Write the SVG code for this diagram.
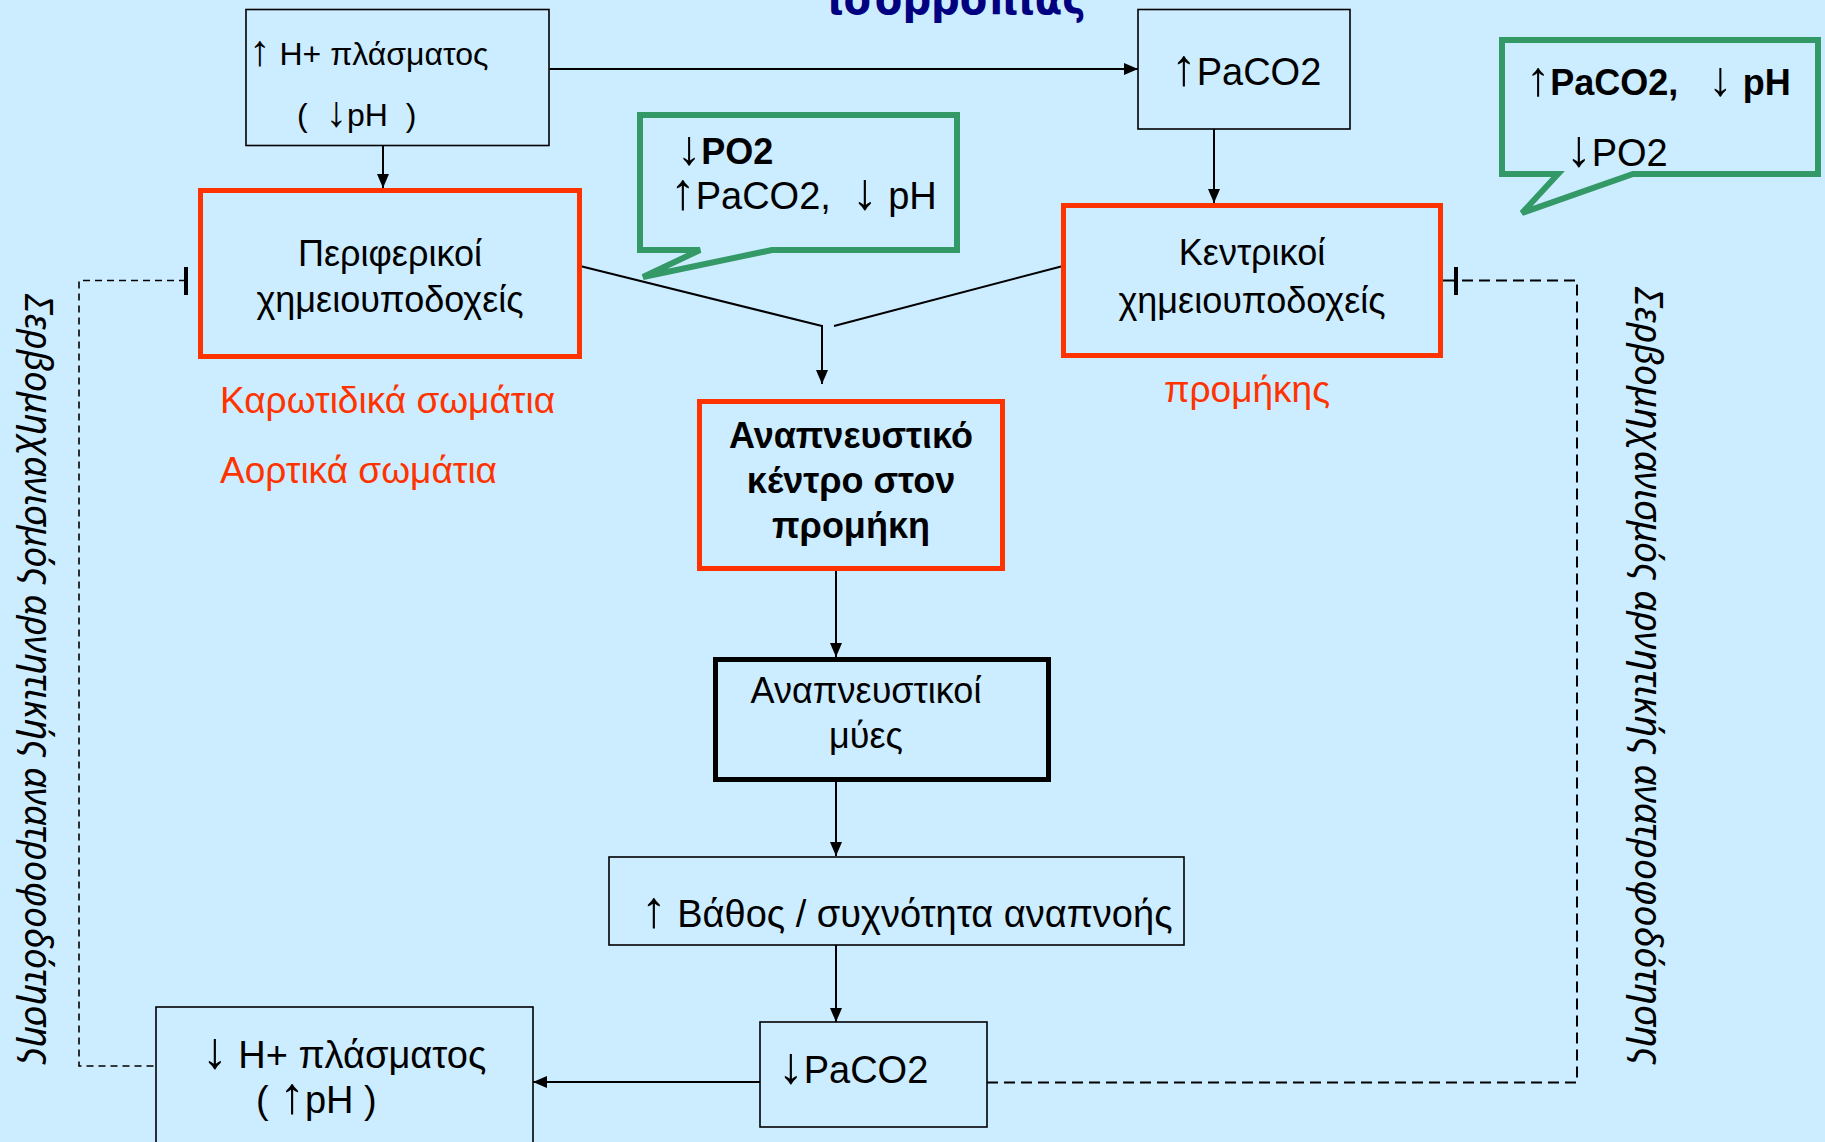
<svg xmlns="http://www.w3.org/2000/svg" width="1825" height="1142" viewBox="0 0 1825 1142">
<defs>
<marker id="ah" markerUnits="userSpaceOnUse" markerWidth="16" markerHeight="14" refX="14" refY="6" orient="auto">
<path d="M0,0 L14,6 L0,12 z" fill="#000"/>
</marker>
<style>
text{font-family:"Liberation Sans",Arial,sans-serif;fill:#000;}
.t38{font-size:38px;}
.t37{font-size:37px;}
.t36{font-size:36px;}
.t32{font-size:32px;}
.b{font-weight:bold;}
.red{fill:#FF3300;}
.pre{white-space:pre;}
.mid{text-anchor:middle;}
.ar{font-size:1.35em;font-weight:normal;}
.thin{fill:none;stroke:#000;stroke-width:1.6;}
.redbox{fill:none;stroke:#FF3300;stroke-width:5;}
.blk{fill:none;stroke:#000;stroke-width:5;}
.call{fill:#CCECFF;stroke:#339966;stroke-width:6;stroke-linejoin:miter;}
.con{fill:none;stroke:#000;stroke-width:2;}
.dash{fill:none;stroke:#000;stroke-width:1.6;stroke-dasharray:7 5;}
.dash2{fill:none;stroke:#000;stroke-width:2;stroke-dasharray:11 6;}
.vert{font-family:"Noto Sans","Open Sans",sans-serif;font-size:38px;font-style:italic;}
</style>
</defs>
<rect x="0" y="0" width="1825" height="1142" fill="#CCECFF"/>

<text x="828" y="14" font-weight="bold" font-size="44" style="fill:#000080;font-family:'DejaVu Sans',sans-serif" textLength="258" lengthAdjust="spacingAndGlyphs">ισορροπίας</text>

<g id="connectors">
<line class="con" x1="549.5" y1="69" x2="1138" y2="69" marker-end="url(#ah)"/>
<line class="con" x1="383" y1="145.5" x2="383" y2="188" marker-end="url(#ah)"/>
<line class="con" x1="1214" y1="129" x2="1214" y2="203" marker-end="url(#ah)"/>
<line class="con" x1="580" y1="266" x2="822" y2="326"/>
<line class="con" x1="1063" y1="266" x2="834" y2="326"/>
<line class="con" x1="822" y1="325" x2="822" y2="384" marker-end="url(#ah)"/>
<line class="con" x1="836" y1="571" x2="836" y2="657" marker-end="url(#ah)"/>
<line class="con" x1="836" y1="782" x2="836" y2="856" marker-end="url(#ah)"/>
<line class="con" x1="836" y1="945" x2="836" y2="1022" marker-end="url(#ah)"/>
<line class="con" x1="760" y1="1082" x2="533" y2="1082" marker-end="url(#ah)"/>
<polyline class="dash" points="186,280.5 79,280.5 79,1066 155,1066"/>
<line x1="186" y1="267" x2="186" y2="295" stroke="#000" stroke-width="4"/>
<polyline class="dash2" points="987,1082.5 1577,1082.5 1577,280.5 1456,280.5"/>
<line x1="1443" y1="280.5" x2="1456" y2="280.5" stroke="#000" stroke-width="2"/>
<line x1="1456" y1="267" x2="1456" y2="295" stroke="#000" stroke-width="4"/>
</g>

<g id="plasma-h-up">
<rect class="thin" x="246" y="9.5" width="303" height="136"/>
<text class="t32" x="249" y="65"><tspan class="ar">↑</tspan> H+ πλάσματος</text>
<text class="t32 pre" x="297" y="126">(  <tspan class="ar">↓</tspan>pH  )</text>
</g>

<g id="paco2-up">
<rect class="thin" x="1138" y="9.5" width="212" height="119.5"/>
<text class="t38" x="1171" y="85"><tspan class="ar">↑</tspan>PaCO2</text>
</g>

<g id="callout-left">
<path class="call" d="M640,115 H957 V250 H772 L643,277 L700,250 H640 Z"/>
<text class="t36 b" x="677" y="164"><tspan class="ar">↓</tspan>PO2</text>
<text class="t38 pre" x="670" y="209"><tspan class="ar">↑</tspan>PaCO2,  <tspan class="ar">↓</tspan> pH</text>
</g>

<g id="callout-right">
<path class="call" d="M1502,40 H1818 V174 H1633 L1522,213 L1558,174 H1502 Z"/>
<text class="t36 b pre" x="1526" y="95"><tspan class="ar">↑</tspan>PaCO2,   <tspan class="ar">↓</tspan> pH</text>
<text class="t38" x="1566" y="166"><tspan class="ar">↓</tspan>PO2</text>
</g>

<g id="peripheral">
<rect class="redbox" x="200.5" y="190.5" width="379" height="166"/>
<text class="t36 mid" x="390" y="266">Περιφερικοί</text>
<text class="t36 mid" x="390" y="312">χημειουποδοχείς</text>
<text class="t37 red" x="220" y="413">Καρωτιδικά σωμάτια</text>
<text class="t37 red" x="220" y="483">Αορτικά σωμάτια</text>
</g>

<g id="central">
<rect class="redbox" x="1063.5" y="205.5" width="377" height="150"/>
<text class="t36 mid" x="1252" y="265">Κεντρικοί</text>
<text class="t36 mid" x="1252" y="313">χημειουποδοχείς</text>
<text class="t37 red mid" x="1247" y="402">προμήκης</text>
</g>

<g id="resp-center">
<rect class="redbox" x="699.5" y="401.5" width="303" height="167"/>
<text class="t36 b mid" x="851" y="448">Αναπνευστικό</text>
<text class="t36 b mid" x="851" y="493">κέντρο στον</text>
<text class="t36 b mid" x="851" y="538">προμήκη</text>
</g>

<g id="resp-muscles">
<rect class="blk" x="715.5" y="659.5" width="333" height="120"/>
<text class="t36 mid" x="866" y="703">Αναπνευστικοί</text>
<text class="t36 mid" x="866" y="748">μύες</text>
</g>

<g id="depth-rate">
<rect class="thin" x="609" y="857" width="575" height="88"/>
<text class="t38" x="641" y="927"><tspan class="ar">↑</tspan> Βάθος / συχνότητα αναπνοής</text>
</g>

<g id="paco2-down">
<rect class="thin" x="760" y="1022" width="227" height="105"/>
<text class="t38" x="778" y="1083"><tspan class="ar">↓</tspan>PaCO2</text>
</g>

<g id="plasma-h-down">
<rect class="thin" x="156" y="1007" width="377" height="160"/>
<text class="t38" x="202" y="1068"><tspan class="ar">↓</tspan> H+ πλάσματος</text>
<text class="t38" x="256" y="1113">( <tspan class="ar">↑</tspan>pH )</text>
</g>

<g id="feedback-left">
<text class="vert" transform="translate(25,294) rotate(90)" textLength="771" lengthAdjust="spacingAndGlyphs">Σερβομηχανισμός αρνητικής ανατροφοδότησης</text>
</g>
<g id="feedback-right">
<text class="vert" transform="translate(1635,287) rotate(90)" textLength="778" lengthAdjust="spacingAndGlyphs">Σερβομηχανισμός αρνητικής  ανατροφοδότησης</text>
</g>
</svg>
